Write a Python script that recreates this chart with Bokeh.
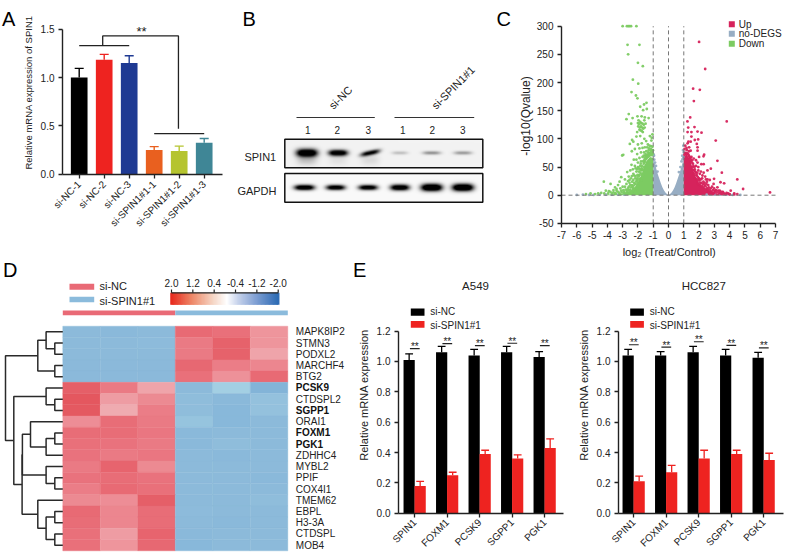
import numpy as np
from bokeh.plotting import figure
from bokeh.layouts import row, column
from bokeh.models import Range1d, FixedTicker, LinearColorMapper, ColumnDataSource
from bokeh.core.properties import value
from bokeh.transform import transform
from bokeh.embed import file_html
from bokeh.resources import INLINE

FONT = "Liberation Sans"
INK = "#222222"

# ---- Panel A
a_cats = ["si-NC-1", "si-NC-2", "si-NC-3", "si-SPIN1#1-1", "si-SPIN1#1-2", "si-SPIN1#1-3"]
a_vals = [1.0, 1.185, 1.15, 0.25, 0.24, 0.325]
a_tops = [1.095, 1.24, 1.225, 0.285, 0.29, 0.37]
a_cols = ["#000000", "#ee2320", "#1f3a93", "#e9601f", "#b5c42f", "#3f8696"]
a_yticks = [0.0, 0.5, 1.0, 1.5]

# ---- Panel B
b_lanes = ["1", "2", "3", "1", "2", "3"]
b_spin1_level = [1.5, 1.35, 1.1, 0.22, 0.42, 0.38]
b_gapdh_level = [1.35, 1.25, 1.25, 1.35, 1.6, 1.6]
b_spin1_halfw = [10.5, 9.5, 9.5, 8, 9, 9]
b_gapdh_halfw = [10, 9.5, 9.5, 9.5, 10.5, 10.5]
b_spin1_halfh = [3.8, 2.9, 2.3, 1.6, 1.7, 1.7]
b_gapdh_halfh = [2.6, 2.5, 2.5, 2.9, 3.5, 3.5]
b_spin1_tilt = [0.0, 0.0, -0.2, 0.0, 0.0, 0.0]
b_smear = [0.2, 0.07, 0.1, 0.0, 0.0, 0.0]
b_spin1_lane_pos = [0.0, 1.0, 2.03, 2.98, 4.0, 5.0]
b_gapdh_lane_pos = [-0.08, 0.92, 1.96, 2.98, 4.0, 5.0]

# ---- Panel C: points
c_xticks = list(range(-7, 8))
c_yticks = [-50, 0, 50, 100, 150, 200, 250, 300]
c_grey_env_x = [-1.0, -0.9, -0.8, -0.7, -0.6, -0.5, -0.4, -0.3, -0.2, -0.1, 0.0, 0.1, 0.2, 0.3, 0.4, 0.5, 0.6, 0.7, 0.8, 0.9, 1.0]
c_grey_env_y = [65, 58, 47, 37, 29, 21, 14, 9, 5, 2, 0.5, 2, 5, 9, 14, 21, 29, 37, 46, 56, 66]
c_green_env_x = [-1.0, -1.2, -1.4, -1.6, -1.7, -1.8, -2.0, -2.2, -2.5, -3.0, -4.0]
c_green_env_y = [66, 68, 62, 52, 42, 34, 22, 14, 7, 3, 1]
c_red_env_x = [1.0, 1.2, 1.4, 1.5, 1.7, 1.9, 2.1, 2.4, 2.7, 3.0, 3.5, 4.5]
c_red_env_y = [70, 72, 64, 55, 38, 26, 18, 13, 8, 4, 1.5, 0.5]
c_green_pts = [(-3.0,300),(-2.72,300),(-2.62,300),(-2.55,300),(-2.45,300),(-2.1,300),
 (-2.68,267),(-1.9,267),(-2.64,250),(-2.0,235),(-1.68,229),(-2.33,205),(-1.98,198),(-2.42,183),(-2.13,177),(-2.03,172),
 (-1.44,164),(-1.6,161),(-1.85,157),(-1.42,153),(-1.66,151),(-2.6,144),(-2.03,140),(-1.76,140),(-2.35,137),(-1.55,138),
 (-1.3,137),(-2.75,135),(-1.96,133),(-1.58,133),(-2.0,128),(-1.92,126),(-1.85,130),(-1.78,128),(-1.7,127),(-1.62,125),
 (-1.98,122),(-1.88,120),(-1.8,122),(-1.72,120),(-1.65,118),(-1.9,116),(-1.82,115),(-1.75,114),(-1.68,112),(-1.56,120),
 (-2.44,127),(-1.5,127),(-1.85,105),(-1.05,108),(-1.1,102),(-1.22,105),(-1.12,97),(-1.46,96),(-1.58,100),(-2.1,104),
 (-2.05,112),(-2.38,98),(-2.3,95),(-2.53,91),(-2.0,90),(-1.75,92),(-1.35,90),(-1.25,88),(-1.15,87),(-1.05,86),(-1.4,85),
 (-1.55,85),(-1.7,84),(-1.9,83),(-2.2,82),(-2.4,78),(-1.3,80),(-1.12,80),(-1.2,75),(-1.45,78),(-1.6,76),(-1.8,76),
 (-2.05,73),(-2.96,71.7),(-3.03,70.5),(-1.35,72),(-1.5,70),(-1.7,68),(-1.9,66),(-2.1,63),(-2.27,63),(-2.42,54),(-2.0,58),
 (-1.8,60),(-1.6,62),(-2.2,52),(-2.33,46),(-2.0,50),(-1.85,52),(-2.7,41),(-2.5,44),(-2.1,42),(-1.95,42),(-2.3,38),
 (-2.15,34),(-3.09,32),(-2.6,33),(-2.45,30),(-1.9,35),(-2.05,30),(-2.3,27),(-2.85,28),(-3.3,18),(-3.5,14),(-3.0,15),
 (-2.75,20),(-2.55,22),(-2.6,15),(-2.4,18),(-2.2,20),(-2.0,22),(-4.23,24),(-3.79,20),(-4.1,8),(-3.9,7),(-3.6,5),(-3.3,6),
 (-3.1,8),(-2.9,6),(-2.7,9),(-2.5,10),(-2.3,12),(-2.1,14),(-4.4,4),(-4.6,3),(-4.8,2),(-5.1,3),(-5.4,2),(-4.2,3),(-3.95,3),
 (-3.5,3),(-3.2,2.5),(-2.9,3),(-2.6,3),(-2.4,5),(-2.2,7),(-2.0,16),(-1.8,26),(-1.7,35),(-1.75,45),(-1.6,50),
 # ragged edge of the dense part
 (-1.03,74),(-1.08,71),(-1.14,77),(-1.18,72),(-1.24,70),(-1.28,74),(-1.33,68),(-1.38,71),(-1.42,66),(-1.48,64),(-1.52,60),
 (-1.56,66),(-1.62,56),(-1.66,60),(-1.72,52),(-1.76,48),(-1.8,44),(-1.84,40),(-1.88,46),(-1.92,36),(-1.97,33),(-2.03,36),
 (-2.08,27),(-2.12,24),(-2.18,30),(-2.25,22),(-2.28,17),(-2.35,15),(-2.38,24),(-2.45,14),(-2.5,18),(-2.58,9),(-2.65,12),
 (-2.72,6),(-2.8,10),(-2.85,15),(-2.95,9),(-3.05,5),(-3.15,12),(-3.22,4),(-3.4,8),(-3.45,3),(-3.7,3),(-3.8,6),(-1.78,38),
 (-1.84,30),(-1.93,28),(-2.02,25),(-2.1,19),(-2.17,12),(-2.27,10),(-2.33,8),(-2.42,7),(-2.55,6),(-2.68,4),(-2.78,3),
 (-1.64,44),(-1.7,46),(-1.58,58),(-1.46,69),(-1.32,76),(-1.1,73),(-1.06,78),(-1.16,82),(-1.27,83),(-1.02,80),(-1.5,73),(-1.62,70),
 (-1.82,56),(-1.95,48),(-2.06,46),(-2.15,48),(-2.25,35),(-2.4,34),(-2.55,27),(-2.65,25),(-3.2,24),(-3.4,11),(-3.6,9)]
c_red_pts = [(2.0,272),(2.4,224),(1.61,189),(2.05,187),(1.66,167),(1.42,138),(3.81,131),(1.24,131),(1.29,120),(1.7,121),
 (1.5,112),(1.9,113),(2.16,111),(1.25,112),(1.5,104),(3.09,97),(1.94,99),(1.72,98),(1.45,95),(1.25,92),(1.1,88),(1.85,91),
 (1.9,85),(1.35,85),(1.2,80),(1.45,79),(1.9,79),(2.29,69),(2.33,72),(3.2,61),(2.77,47),(2.55,44),(3.49,40),(4.5,28),
 (4.88,11),(6.64,5),(4.07,8),(4.5,2),(4.3,3),(3.64,21),(3.4,23),(2.98,29),(2.95,20),(2.55,28),(2.3,40),(2.0,68),(1.8,62),
 (1.95,50),(2.15,55),(2.05,38),(2.3,55),(2.45,28),(2.7,27),(2.6,18),(2.85,15),(3.1,9),(3.35,8),(3.55,6),(3.8,4),(3.2,14),
 (3.0,5),(4.3,1.5),(4.0,2),(2.2,30),(2.0,30),(1.75,42),(1.7,50),(1.6,56),(1.55,62),(1.5,68),(1.45,60),(1.85,35),(1.65,65),
 (1.4,66),(1.3,72),(1.15,73),(2.15,22),(2.35,18),(2.5,12),(2.75,7),(3.4,3),(3.65,2.5),(2.9,2),(1.9,25),(1.75,30),(1.6,45),(1.65,38),
 # ragged edge of the dense part
 (1.04,72),(1.09,75),(1.17,74),(1.25,74),(1.33,70),(1.38,68),(1.44,66),(1.47,62),(1.53,58),(1.58,50),(1.63,52),(1.68,44),
 (1.72,46),(1.78,40),(1.82,36),(1.88,40),(1.92,32),(1.98,28),(2.03,26),(2.08,22),(2.12,28),(2.18,16),(2.24,20),(2.28,14),
 (2.36,22),(2.42,16),(2.48,20),(2.56,11),(2.63,14),(2.68,10),(2.76,12),(2.82,6),(2.92,9),(2.98,12),(3.05,7),(3.15,5),(3.25,8),
 (3.3,4),(3.45,6),(3.5,2),(3.6,4),(3.75,2),(3.9,3),(3.98,1.5),(2.22,35),(2.12,42),(2.4,33),(1.8,52),(1.9,58),(1.95,44),
 (2.28,24),(2.52,24),(2.58,7),(2.05,18),(1.85,28),(1.95,20),(2.65,5),(2.78,4),(2.95,3),(1.35,78),(1.18,84),(1.05,82),(1.3,95)]
c_grey_pts = [(-6.0,0.5),(-5.6,1),(-5.2,0.5),(-4.9,0.5),(-4.5,1),(-4.1,1),(-3.7,1),(-3.3,1),(-2.9,1),(2.5,1),(3.0,1),(3.4,1),
 (3.8,1),(4.2,0.5),(4.7,0.5),(0.97,88),(0.95,80),(1.0,76),(-0.97,72),(0.9,70),(-0.95,70),(0.92,64),(0.97,68),(-0.93,63),
 (-0.82,52),(-0.72,42),(0.78,50),(0.68,41),(0.85,60),(-0.88,58)]
c_legend = ["Up", "no-DEGS", "Down"]
c_colors = ["#d6235c", "#97adc3", "#7ccb62"]

# ---- Panel D
d_genes = ["MAPK8IP2", "STMN3", "PODXL2", "MARCHF4", "BTG2", "PCSK9", "CTDSPL2", "SGPP1", "ORAI1", "FOXM1", "PGK1",
           "ZDHHC4", "MYBL2", "PPIF", "COX4I1", "TMEM62", "EBPL", "H3-3A", "CTDSPL", "MOB4"]
d_bold = ["PCSK9", "SGPP1", "FOXM1", "PGK1"]
d_z = [[-1.0, -1.05, -1.0, 1.15, 1.05, 0.55],
       [-1.0, -1.0, -0.98, 0.9, 1.3, 0.55],
       [-1.0, -1.0, -1.0, 0.9, 1.3, 0.35],
       [-1.03, -1.03, -1.03, 1.2, 0.85, 0.75],
       [-1.03, -1.03, -1.03, 1.05, 0.6, 1.15],
       [1.35, 0.9, 0.35, -1.0, -0.55, -1.2],
       [1.55, 0.45, 0.7, -0.95, -1.05, -0.85],
       [1.5, 0.25, 0.85, -0.95, -1.1, -0.85],
       [0.65, 1.1, 0.9, -0.8, -1.1, -1.0],
       [1.1, 1.1, 0.95, -1.05, -1.0, -1.0],
       [1.05, 1.0, 0.9, -1.05, -0.95, -1.0],
       [1.0, 0.9, 0.95, -1.0, -1.05, -1.0],
       [0.9, 1.25, 0.7, -1.0, -1.0, -1.0],
       [1.0, 1.1, 1.0, -1.0, -1.0, -1.05],
       [0.85, 1.15, 1.05, -1.0, -1.0, -1.0],
       [0.7, 0.65, 1.35, -1.0, -1.0, -0.95],
       [1.15, 0.75, 1.1, -0.98, -1.0, -1.0],
       [1.1, 0.75, 1.1, -1.0, -1.05, -1.0],
       [1.05, 0.45, 1.25, -1.05, -1.0, -1.0],
       [1.05, 0.55, 1.2, -1.1, -1.0, -1.0]]
# dendrogram: (merge height, left child, right child); ints are rows
d_tree = (57.3,
          (25, (16.7, 0, (8, 1, 2)), (8, 3, 4)),
          (49, (16.7, 5, (8, 6, 7)),
           (40.7, (40.4, (32.3, 8, (16.7, (8, 9, 10), 11)), (16.7, 12, (8, 13, 14))),
            (25, 15, (16.7, (8, 16, 17), (8, 18, 19))))))
d_cb_ticks = [2.0, 1.2, 0.4, -0.4, -1.2, -2.0]
d_cb_labels = ["2.0", "1.2", "0.4", "-0.4", "-1.2", "-2.0"]
d_groups = ["si-NC", "si-SPIN1#1"]
d_group_cols = ["#e96a76", "#8bbbdc"]

# ---- Panel E
e_genes = ["SPIN1", "FOXM1", "PCSK9", "SGPP1", "PGK1"]
e_yticks = [0.0, 0.2, 0.4, 0.6, 0.8, 1.0, 1.2]
e1_nc = [1.01, 1.06, 1.04, 1.06, 1.03]
e1_nc_top = [1.05, 1.10, 1.08, 1.10, 1.065]
e1_si = [0.18, 0.25, 0.39, 0.36, 0.43]
e1_si_top = [0.21, 0.27, 0.415, 0.385, 0.49]
e1_sig = [1.085, 1.117, 1.104, 1.12, 1.104]
e2_nc = [1.04, 1.04, 1.06, 1.04, 1.025]
e2_nc_top = [1.08, 1.065, 1.10, 1.08, 1.06]
e2_si = [0.21, 0.27, 0.36, 0.39, 0.35]
e2_si_top = [0.245, 0.315, 0.415, 0.415, 0.395]
e2_sig = [1.11, 1.095, 1.13, 1.106, 1.09]

# panel letters and the x title of C sit outside any panel's frame
letters = ["A", "B", "C", "D", "E"]
c_xlabel = "log\u2082 (Treat/Control)"


def lin(p0, v0, p1, v1):
    return lambda p: v0 + (p - p0) * (v1 - v0) / (p1 - p0)


def panel(w, h, left, right, top, bottom, X, Y, ox, oy, axes=True):
    kw = {} if axes else {"x_axis_type": None, "y_axis_type": None}
    p = figure(width=w, height=h, min_border_left=left, min_border_right=right, min_border_top=top,
               min_border_bottom=bottom, x_range=Range1d(X(ox + left), X(ox + w - right)),
               y_range=Range1d(Y(oy + h - bottom), Y(oy + top)), tools="", toolbar_location=None,
               output_backend="svg", outline_line_color=None, margin=0, frame_align=False, **kw)
    p.grid.visible = False
    if axes:
        for ax in (p.xaxis, p.yaxis):
            ax.axis_line_color = INK
            ax.axis_line_width = 1.4
            ax.major_tick_line_color = INK
            ax.major_tick_line_width = 1.3
            ax.major_tick_out = 4
            ax.major_tick_in = 0
            ax.minor_tick_out = 0
            ax.minor_tick_in = 0
            ax.major_label_text_font = FONT
            ax.major_label_text_color = INK
            ax.major_label_text_font_size = "10px"
            ax.major_label_standoff = 4
            ax.axis_label_text_font = FONT
            ax.axis_label_text_font_style = "normal"
            ax.axis_label_text_color = INK
    return p


def T(p, x, y, text, size="10px", align="left", baseline="middle", angle=0, style="normal", color=INK):
    xs = x if isinstance(x, (list, np.ndarray)) else [x]
    ys = y if isinstance(y, (list, np.ndarray)) else [y]
    ts = text if isinstance(text, list) else [text]
    p.text(x=xs, y=ys, text=ts, text_font=value(FONT), text_font_size=size, text_align=align,
           text_baseline=baseline, angle=angle, text_font_style=style, text_color=color)


# ================= A =================
Xa = lin(78.7, 0, 203.7, 5)
Ya = lin(173.7, 0, 28.7, 1.5)
pa = panel(230, 256, 62, 8, 10, 82, Xa, Ya, 0, 0)
ax_idx = list(range(len(a_cats)))
pa.vbar(x=ax_idx, top=a_vals, width=0.667, color=a_cols, line_color=None)
pa.segment(ax_idx, a_vals, ax_idx, a_tops, color=a_cols, line_width=1.4)
pa.segment([i - 0.18 for i in ax_idx], a_tops, [i + 0.18 for i in ax_idx], a_tops, color=a_cols, line_width=1.4)
pa.xaxis.ticker = FixedTicker(ticks=ax_idx)
pa.xaxis.major_label_overrides = dict(zip(ax_idx, a_cats))
pa.xaxis.major_label_orientation = np.pi / 4
pa.yaxis.ticker = FixedTicker(ticks=a_yticks)
pa.yaxis.major_label_overrides = {v: f"{v:.1f}" for v in a_yticks}
pa.yaxis.bounds = (0, 1.5)
pa.yaxis.axis_label = "Relative mRNA expression of SPIN1"
pa.yaxis.axis_label_text_font_size = "9.5px"
pa.yaxis.axis_label_standoff = 4
pa.line([0, 2], [1.33, 1.33], color=INK, line_width=1.3)
pa.line([3, 5], [0.42, 0.42], color=INK, line_width=1.3)
pa.line([0.94, 0.94, 3.97, 3.97], [1.33, 1.43, 1.43, 0.47], color=INK, line_width=1.3)
T(pa, 2.49, 1.475, "**", size="13px", align="center")

# ================= B =================
Xb = lin(306, 0, 462.3, 5)
Yb = lin(187.3, 0, 152.7, 1)
pb = panel(260, 256, 0, 0, 0, 0, Xb, Yb, 230, 0, axes=False)


def blot(y_center, level, halfw, halfh, lanes, tilt, smear, bg, box_top, box_bottom):
    x0, x1 = Xb(284.3), Xb(482.3)
    y1, y0 = Yb(box_top), Yb(box_bottom)
    W, H = 396, 58
    xs = np.linspace(x0, x1, W)
    ys = np.linspace(y0, y1, H)
    xx, yy = np.meshgrid(xs, ys)
    dark = np.zeros_like(xx)
    for lv, hw, hh, c, t, s in zip(level, halfw, halfh, lanes, tilt, smear):
        dx = (xx - c) * 31.26
        dy = (yy - y_center) * 34.6 - t * (-dx)
        dark += lv * np.exp(-np.abs(dx / hw) ** 3.2 - (dy / hh) ** 2)
        dy2 = (yy - y_center) * 34.6 + 7
        dark += s * np.exp(-np.abs(dx / (hw * 0.95)) ** 3 - (dy2 / 5) ** 2)
    dark = np.clip(dark, 0, 1)
    v = (bg * (1 - dark)).astype(np.uint32)
    img = (255 << 24) | (v << 16) | (v << 8) | v
    pb.image_rgba(image=[img.astype(np.uint32)], x=x0, y=y0, dw=x1 - x0, dh=y1 - y0)
    pb.quad(left=[x0], right=[x1], bottom=[y0], top=[y1], fill_color=None, line_color="#111111", line_width=1.5)


blot(1.0, b_spin1_level, b_spin1_halfw, b_spin1_halfh, b_spin1_lane_pos, b_spin1_tilt, b_smear, 243, 138.7, 167.3)
blot(0.0, b_gapdh_level, b_gapdh_halfw, b_gapdh_halfh, b_gapdh_lane_pos, [0] * 6, [0] * 6, 250, 173, 201.7)
T(pb, Xb(275.7), 1.0 - 0.1, "SPIN1", size="11px", align="right")
T(pb, Xb(276), -0.08, "GAPDH", size="11px", align="right")
lane_lbl_px = [307.3, 336.7, 367.7, 402.3, 431.7, 462.3]
T(pb, [Xb(v) for v in lane_lbl_px], [Yb(129)] * 6, b_lanes, size="10px", align="center")
pb.line([Xb(296), Xb(374.3)], [Yb(117)] * 2, color="#333333", line_width=1.2)
pb.line([Xb(394), Xb(473.7)], [Yb(117)] * 2, color="#333333", line_width=1.2)
T(pb, Xb(340), Yb(97), "si-NC", size="11px", align="center", angle=np.pi / 4)
T(pb, Xb(452.7), Yb(87), "si-SPIN1#1", size="11px", align="center", angle=np.pi / 4)

# ================= C =================
Xc = lin(561, -7, 775, 7)
Yc = lin(194.7, 0, 25.7, 300)
pc = panel(300, 256, 71, 0, 8, 33, Xc, Yc, 490, 0)
pc.varea(x=c_grey_env_x, y1=[0] * len(c_grey_env_x), y2=c_grey_env_y, color=c_colors[1])
pc.varea(x=c_green_env_x, y1=[0] * len(c_green_env_x), y2=c_green_env_y, color=c_colors[2])
pc.varea(x=c_red_env_x, y1=[0] * len(c_red_env_x), y2=c_red_env_y, color=c_colors[0])
for pts, col in ((c_grey_pts, c_colors[1]), (c_green_pts, c_colors[2]), (c_red_pts, c_colors[0])):
    pc.scatter([a for a, _ in pts], [b for _, b in pts], size=2.8, color=col, line_color=None, alpha=0.95)
pc.line([-7, 7], [0, 0], color="#777777", line_width=1, line_dash="4 3")
for vx in (-1, 0, 1):
    pc.line([vx, vx], [-50, 300], color="#777777", line_width=1, line_dash="4 3")
pc.xaxis.ticker = FixedTicker(ticks=c_xticks)
pc.xaxis.major_label_overrides = {v: str(v) for v in c_xticks}
pc.xaxis.bounds = (-7, 7)
pc.xaxis.major_label_standoff = 3
pc.yaxis.ticker = FixedTicker(ticks=c_yticks)
pc.yaxis.major_label_overrides = {v: str(v) for v in c_yticks}
pc.yaxis.bounds = (-50, 300)
pc.yaxis.axis_label = "-log10(Qvalue)"
pc.yaxis.axis_label_text_font_size = "12px"
pc.yaxis.axis_label_standoff = 1
leg_y = [Yc(23.7), Yc(33.3), Yc(43.3)]
pc.rect(x=[Xc(731.3)] * 3, y=leg_y, width=6 / 15.29, height=6 / 0.5633, color=c_colors, line_color=None)
T(pc, [Xc(738.3)] * 3, leg_y, c_legend, size="10px")

# ================= D =================
Xd = lin(62.3, 0, 287.3, 6)
Yd = lin(325.7, 0, 550.3, 20)
pd_ = panel(350, 299, 0, 0, 0, 0, Xd, Yd, 0, 256, axes=False)
anchors_v = [-1.5, -1.2, -1.0, -0.55, 0.25, 0.6, 1.0, 1.35, 1.6]
anchors_c = [(0x7f, 0xb2, 0xd8), (0x84, 0xb5, 0xd9), (0x8d, 0xbb, 0xdb), (0xa4, 0xd0, 0xe4), (0xf0, 0xac, 0xb1),
             (0xee, 0x92, 0x9a), (0xea, 0x73, 0x7e), (0xe6, 0x60, 0x69), (0xe4, 0x55, 0x5d)]
grid_v = np.linspace(-1.5, 1.6, 256)
pal = ["#%02x%02x%02x" % tuple(int(np.interp(v, anchors_v, [c[i] for c in anchors_c])) for i in range(3)) for v in grid_v]
mapper = LinearColorMapper(palette=pal, low=-1.5, high=1.6)
hx, hy, hz = [], [], []
for r, rw in enumerate(d_z):
    for c_, val in enumerate(rw):
        hx.append(c_ + 0.5)
        hy.append(r + 0.5)
        hz.append(val)
src = ColumnDataSource({"x": hx, "y": hy, "z": hz})
pd_.rect("x", "y", width=1, height=1, source=src, fill_color=transform("z", mapper),
         line_color=transform("z", mapper), line_width=0.4)
plain = [g for g in d_genes if g not in d_bold]
bold = [g for g in d_genes if g in d_bold]
ys_p = [d_genes.index(g) + 0.5 for g in plain]
ys_b = [d_genes.index(g) + 0.5 for g in bold]
T(pd_, [Xd(295.3)] * len(plain), ys_p, plain, size="10px")
T(pd_, [Xd(295.3)] * len(bold), ys_b, bold, size="10px", style="bold", color="#111111")
# dendrogram
dx_, dy_ = [], []


def walk(n):
    if isinstance(n, int):
        return n + 0.5, 0.0
    h, a, b = n
    ya, ha = walk(a)
    yb, hb = walk(b)
    xh = -h / 37.5
    dx_.append([ha, xh, xh, hb])
    dy_.append([ya, ya, yb, yb])
    return (ya + yb) / 2, xh


walk(d_tree)
pd_.multi_line(dx_, dy_, line_color="#2a2a2a", line_width=1.5)
# column annotation bar
pd_.quad(left=[0, 3], right=[3, 6], bottom=[Yd(314.7)] * 2, top=[Yd(310)] * 2, color=d_group_cols, line_color=None)
# group legend
pd_.quad(left=[Xd(69)] * 2, right=[Xd(93.7)] * 2, bottom=[Yd(289.3), Yd(301.7)], top=[Yd(283.3), Yd(296.3)],
         color=d_group_cols, line_color=None)
T(pd_, [Xd(99)] * 2, [Yd(285.6), Yd(300)], d_groups, size="11px")
# colour bar
Cb = lin(2.0, 171, -2.0, 277.7)
cb_v = [2.0, 1.2, 0.4, -0.1, -0.5, -1.2, -2.0]
cb_c = [(0xe8, 0x28, 0x1d), (0xee, 0x8a, 0x6a), (0xf6, 0xd8, 0xc8), (0xff, 0xff, 0xff), (0xc9, 0xd4, 0xec), (0x7f, 0x9f, 0xd3), (0x2f, 0x6c, 0xb5)]
cbv = np.linspace(2.0, -2.0, 81)
cb_cols = ["#%02x%02x%02x" % tuple(int(np.interp(-v, [-q for q in cb_v], [c[i] for c in cb_c])) for i in range(3)) for v in cbv]
pd_.rect(x=[Xd(Cb(v)) for v in cbv], y=[Yd(298.3)] * 81, width=(Xd(Cb(cbv[1])) - Xd(Cb(cbv[0]))) * 1.9,
         height=Yd(304.3) - Yd(292.3), color=cb_cols, line_color=None)
pd_.line([Xd(Cb(2.0)), Xd(Cb(-2.0))], [Yd(292.3)] * 2, color="#222222", line_width=1.2)
tx = [Xd(Cb(v)) for v in d_cb_ticks]
pd_.segment(tx, [Yd(292.3)] * 6, tx, [Yd(289)] * 6, color="#222222", line_width=1.2)
T(pd_, tx, [Yd(282)] * 6, d_cb_labels, size="10px", align="center")


# ================= E =================
def bar_panel(ox, w, axis_px, first_px, last_px, end_px, title, title_px, nc, nc_top, si, si_top, sig, leg_l, leg_t):
    X = lin(first_px, 0, last_px, 4)
    Y = lin(515.7, 0, 331.3, 1.2)
    left = int(round(axis_px - ox))
    p = panel(w, 299, left, int(round(ox + w - end_px)), 20, 39, X, Y, ox, 256)
    idx = list(range(len(e_genes)))
    for vals, tops, off, col in ((nc, nc_top, -0.174, "#000000"), (si, si_top, 0.165, "#ee2320")):
        xs = [i + off for i in idx]
        p.vbar(x=xs, top=vals, width=0.345, color=col, line_color=None)
        p.segment(xs, vals, xs, tops, color=col, line_width=1.3)
        p.segment([a - 0.12 for a in xs], tops, [a + 0.12 for a in xs], tops, color=col, line_width=1.3)
    p.segment([i - 0.15 for i in idx], sig, [i + 0.15 for i in idx], sig, color=INK, line_width=1.2)
    T(p, idx, [s + 0.012 for s in sig], ["**"] * 5, size="10px", align="center")
    p.xaxis.ticker = FixedTicker(ticks=idx)
    p.xaxis.major_label_overrides = dict(zip(idx, e_genes))
    p.xaxis.major_label_orientation = np.pi / 4
    p.xaxis.major_label_standoff = 3
    p.yaxis.ticker = FixedTicker(ticks=e_yticks)
    p.yaxis.major_label_overrides = {v: f"{v:.1f}" for v in e_yticks}
    p.yaxis.bounds = (0, 1.2)
    p.yaxis.axis_label = "Relative mRNA expression"
    p.yaxis.axis_label_text_font_size = "11px"
    p.yaxis.axis_label_standoff = 4
    T(p, X(title_px), Y(285.3), title, size="11.5px", align="center")
    p.quad(left=[X(leg_l)] * 2, right=[X(leg_l + 13.7)] * 2, top=[Y(leg_t), Y(leg_t + 12.7)],
           bottom=[Y(leg_t + 7.4), Y(leg_t + 19.7)], color=["#000000", "#ee2320"], line_color=None)
    T(p, [X(leg_l + 19.5)] * 2, [Y(leg_t + 3), Y(leg_t + 17)], d_groups, size="10px")
    return p


pe1 = bar_panel(350, 220, 398.3, 414.3, 544.3, 563.3, "A549", 475, e1_nc, e1_nc_top, e1_si, e1_si_top, e1_sig, 410.3, 308.3)
pe2 = bar_panel(570, 220, 617.7, 633.3, 763.3, 783, "HCC827", 703.3, e2_nc, e2_nc_top, e2_si, e2_si_top, e2_sig, 629.7, 308.3)

# ================= transparent sheet over all panels =================
sheet = figure(width=790, height=555, x_range=Range1d(0, 790), y_range=Range1d(555, 0), x_axis_type=None, y_axis_type=None,
               tools="", toolbar_location=None, output_backend="svg", outline_line_color=None, min_border=0,
               background_fill_color=None, border_fill_color=None, frame_align=False,
               margin=(-555, 0, 0, 0))
sheet.grid.visible = False
T(sheet, [1.5, 242, 496, 2.5, 352.5], [18.5, 18.5, 18.5, 269.5, 269.5], letters, size="20px", baseline="alphabetic", color="#000000")
T(sheet, 668.7, 251, c_xlabel, size="11px", align="center")

layout = column(row(pa, pb, pc, margin=0), row(pd_, pe1, pe2, margin=0), sheet, margin=0)
open("out.html", "w").write(file_html(layout, INLINE))
